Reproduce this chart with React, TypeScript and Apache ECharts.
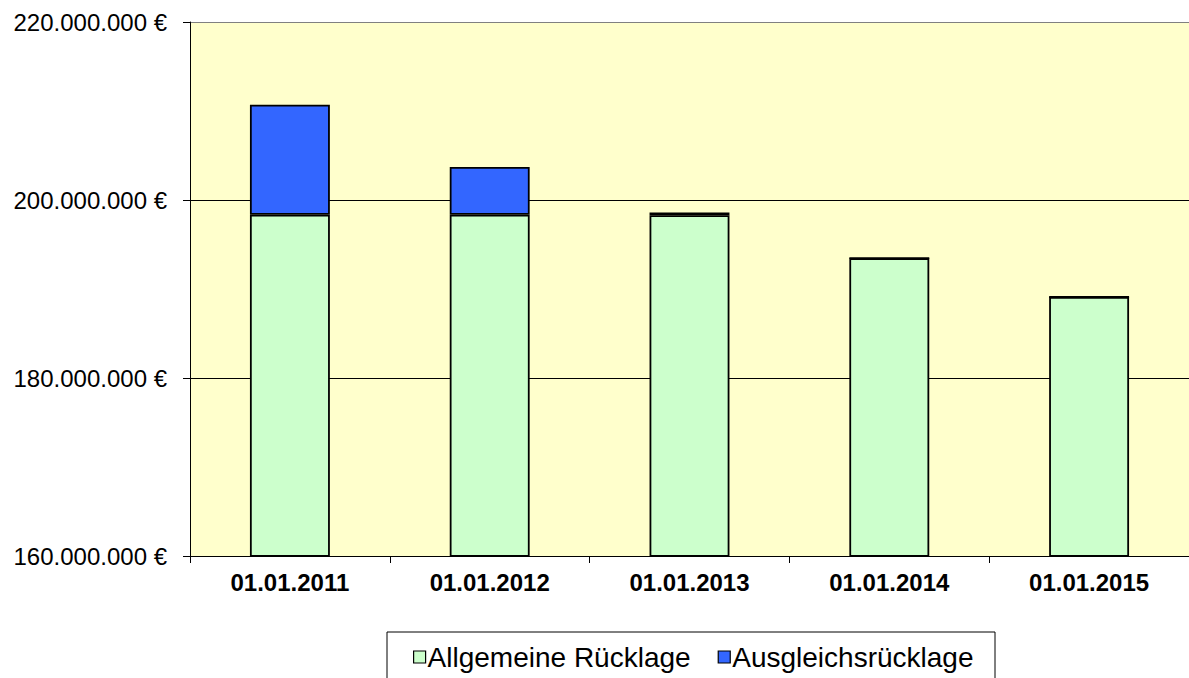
import React, { useEffect, useRef } from "react";
import * as echarts from "echarts";

const categories = ["01.01.2011", "01.01.2012", "01.01.2013", "01.01.2014", "01.01.2015"];
const allgemeineRuecklage = [198350000, 198350000, 198300000, 193460000, 189100000];
const ausgleichsRuecklage = [12350000, 5370000, 300000, 0, 0];
const seriesNames = ["Allgemeine Rücklage", "Ausgleichsrücklage"];
const yMin = 160000000;
const yMax = 220000000;
const yInterval = 20000000;

const fmt = (v: number) =>
  String(Math.round(v)).replace(/\B(?=(\d{3})+(?!\d))/g, ".") + " €";

export default function App() {
  const ref = useRef<HTMLDivElement>(null);
  useEffect(() => {
    if (!ref.current) return;
    const chart = echarts.init(ref.current, undefined, { renderer: "svg" });
    const font = "'Liberation Sans', Arial, sans-serif";
    chart.setOption({
      animation: false,
      textStyle: { fontFamily: font },
      grid: {
        left: 190,
        right: 0,
        top: 22,
        bottom: 122,
        show: true,
        backgroundColor: "#FFFFCC",
        borderWidth: 0,
      },
      graphic: [
        {
          type: "rect",
          shape: { x: 387, y: 632, width: 608, height: 60 },
          style: { fill: "#ffffff", stroke: "#000000", lineWidth: 1 },
          z: 0,
        },
      ],
      legend: {
        left: 413,
        top: 643,
        padding: 0,
        itemWidth: 12,
        itemHeight: 12,
        itemGap: 27,
        icon: "rect",
        textStyle: {
          fontFamily: font,
          fontSize: 28,
          lineHeight: 28,
          color: "#000",
          padding: [0, 0, 0, -3],
        },
        itemStyle: { borderColor: "#000", borderWidth: 1.2 },
        data: seriesNames,
        z: 5,
      },
      xAxis: {
        type: "category",
        data: categories,
        axisLine: { lineStyle: { color: "#000", width: 1 } },
        axisTick: { show: true, length: 7, alignWithLabel: false, lineStyle: { color: "#000" } },
        axisLabel: {
          fontFamily: font,
          fontSize: 24,
          fontWeight: "bold",
          color: "#000",
          margin: 14,
        },
      },
      yAxis: {
        type: "value",
        min: yMin,
        max: yMax,
        interval: yInterval,
        axisLine: { show: true, lineStyle: { color: "#000", width: 1 } },
        axisTick: { show: true, length: 7, lineStyle: { color: "#000" } },
        axisLabel: {
          fontFamily: font,
          fontSize: 24,
          color: "#000",
          margin: 23,
          formatter: (v: number) => fmt(v),
        },
        splitLine: {
          show: true,
          lineStyle: { color: ["#000", "#000", "#000", "#808080"], width: 1 },
        },
      },
      series: [
        {
          name: seriesNames[0],
          type: "bar",
          stack: "total",
          barWidth: "40%",
          data: allgemeineRuecklage,
          itemStyle: { color: "#CCFFCC", borderColor: "#000", borderWidth: 1.8 },
        },
        {
          name: seriesNames[1],
          type: "bar",
          stack: "total",
          barWidth: "40%",
          data: ausgleichsRuecklage,
          itemStyle: { color: "#3366FF", borderColor: "#000", borderWidth: 1.8 },
        },
      ],
    });
    return () => chart.dispose();
  }, []);
  return (
    <div
      ref={ref}
      style={{ position: "absolute", left: 0, top: 0, width: 1189, height: 678, background: "#fff" }}
    />
  );
}
